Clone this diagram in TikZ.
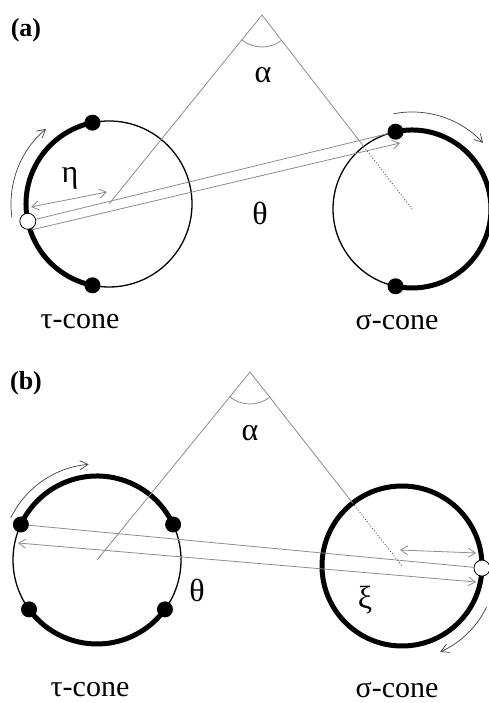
\documentclass[tikz,border=0pt]{standalone}
\usepackage{fontspec}
\setmainfont{Liberation Serif}
\usetikzlibrary{arrows.meta, calc, angles}

\begin{document}
\begin{tikzpicture}[x=1pt,y=1pt,
  rim/.style={line width=1.3pt},
  bold/.style={line width=5pt},
  ray/.style={gray!90,line width=0.8pt},
  hidden/.style={gray!60!black,line width=0.9pt,dotted},
  vec/.style={gray!90,line width=0.8pt,-{Straight Barb[length=7pt,width=9pt]}},
  dvec/.style={gray!90,line width=0.8pt,{Straight Barb[length=7pt,width=9pt]}-{Straight Barb[length=7pt,width=9pt]}},
  turn/.style={gray!50!black,line width=0.7pt,-{Straight Barb[length=8pt,width=9pt]}},
  dot/.style={circle,fill=black,inner sep=0pt,minimum size=16pt},
  hole/.style={circle,draw=black,fill=white,line width=0.8pt,inner sep=0pt,minimum size=16pt},
  glyph/.style={font=\fontsize{32}{32}\selectfont},
  tag/.style={font=\fontsize{26}{26}\selectfont\bfseries},
  cone/.style={font=\fontsize{30}{30}\selectfont}
]
  \useasboundingbox (0,0) rectangle (488,703);

  % (a)
  \coordinate (apexA) at (262,688);
  \coordinate (tauA) at (109,499);
  \coordinate (sigA) at (412,494);
  \coordinate (enA) at ($(sigA)!79pt!(apexA)$);
  \coordinate (eA1) at (31,496);
  \coordinate (eA2) at (107,511);
  \coordinate (lA1) at (31,473);
  \coordinate (lA2) at (400,560);
  \node[tag] (tagA) at (26,673) {(a)};
  \draw[rim] (tauA) circle[radius=83pt];
  \draw[rim] (sigA) circle[radius=79pt];
  \draw[bold] ($(tauA)+(101.5:83pt)$) arc[start angle=101.5,end angle=258.5,radius=83pt];
  \draw[bold] ($(sigA)+(102:79pt)$) arc[start angle=102,end angle=-102,radius=79pt];
  \draw[turn] ($(tauA)+(188:98pt)$) arc[start angle=188,end angle=130,radius=98pt];
  \draw[turn] ($(sigA)+(101:97pt)$) arc[start angle=101,end angle=43,radius=97pt];
  \foreach \a [count=\i] in {101.5,258.5}
    \node[dot] (tA\i) at ($(tauA)+(\a:83pt)$) {};
  \foreach \a [count=\i] in {102,258}
    \node[dot] (sA\i) at ($(sigA)+(\a:79pt)$) {};
  \node[hole] (wA) at ($(tauA)+(192:83pt)$) {};
  \draw[ray] (apexA) -- (tauA);
  \draw[ray] (apexA) -- (enA);
  \draw[hidden] (enA) -- (sigA);
  \pic[draw,gray!90,line width=0.8pt,angle radius=32pt] {angle=tauA--apexA--sigA};
  \draw[dvec] (eA1) -- (eA2);
  \draw[ray] (wA) -- (sA1);
  \draw[vec] (lA1) -- (lA2);
  \node[glyph] (alA) at (263,628) {α};
  \node[glyph] (etA) at (70,525) {η};
  \node[glyph] (thA) at (260,490) {θ};
  \node[cone] (tcA) at (80,381) {τ-cone};
  \node[cone] (scA) at (397,381) {σ-cone};

  % (b)
  \coordinate (apexB) at (250,331);
  \coordinate (tauB) at (97,143);
  \coordinate (sigB) at (402,137);
  \coordinate (enB) at ($(sigB)!80pt!(apexB)$);
  \coordinate (xB1) at (400,153);
  \coordinate (xB2) at (476,150);
  \coordinate (lB1) at (18,160);
  \coordinate (lB2) at (476,121);
  \node[tag] (tagB) at (26,320) {(b)};
  \draw[rim] (tauB) circle[radius=84pt];
  \draw[bold] (sigB) circle[radius=80pt];
  \draw[bold] ($(tauB)+(25:84pt)$) arc[start angle=25,end angle=155,radius=84pt];
  \draw[bold] ($(tauB)+(216:84pt)$) arc[start angle=216,end angle=324,radius=84pt];
  \draw[turn] ($(tauB)+(154:96pt)$) arc[start angle=154,end angle=95,radius=96pt];
  \draw[turn] ($(sigB)+(-26:94pt)$) arc[start angle=-26,end angle=-66,radius=94pt];
  \foreach \a [count=\i] in {25,155,216,324}
    \node[dot] (tB\i) at ($(tauB)+(\a:84pt)$) {};
  \node[hole] (wB) at ($(sigB)+(-1.5:80pt)$) {};
  \draw[ray] (apexB) -- (tauB);
  \draw[ray] (apexB) -- (enB);
  \draw[hidden] (enB) -- (sigB);
  \pic[draw,gray!90,line width=0.8pt,angle radius=32pt] {angle=tauB--apexB--sigB};
  \draw[dvec] (xB1) -- (xB2);
  \draw[ray] (tB2) -- (wB);
  \draw[dvec] (lB1) -- (lB2);
  \node[glyph] (alB) at (250,270) {α};
  \node[glyph] (thB) at (197,113) {θ};
  \node[glyph] (xiB) at (365,103) {ξ};
  \node[cone] (tcB) at (90,13) {τ-cone};
  \node[cone] (scB) at (397,13) {σ-cone};
\end{tikzpicture}
\end{document}
